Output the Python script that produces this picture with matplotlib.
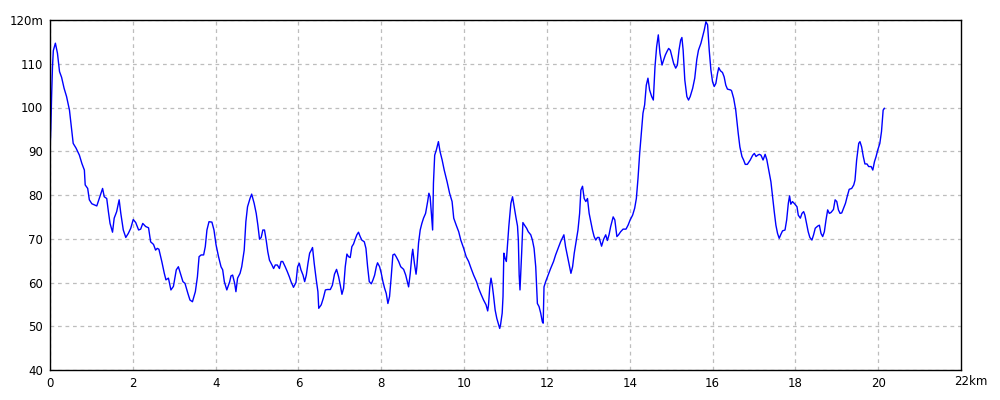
from matplotlib import transforms
import matplotlib.pyplot as plt


# distance along the route (km) and elevation (m)
DISTANCE_KM: list[float] = [
    0.00, 0.02, 0.04, 0.06, 0.08, 0.13, 0.18, 0.23, 0.28, 0.34, 0.40, 0.47,
    0.52, 0.56, 0.63, 0.71, 0.77, 0.83, 0.85, 0.91, 0.95, 1.01, 1.13, 1.19,
    1.27, 1.31, 1.37, 1.41, 1.45, 1.51, 1.55, 1.61, 1.67, 1.71, 1.77, 1.83,
    1.89, 1.95, 2.01, 2.07, 2.14, 2.19, 2.24, 2.31, 2.38, 2.43, 2.50, 2.55,
    2.59, 2.63, 2.70, 2.76, 2.80, 2.86, 2.92, 2.98, 3.05, 3.10, 3.16, 3.21,
    3.26, 3.33, 3.38, 3.44, 3.51, 3.56, 3.60, 3.65, 3.71, 3.75, 3.79, 3.84,
    3.91, 3.96, 4.01, 4.07, 4.13, 4.17, 4.21, 4.27, 4.34, 4.37, 4.41, 4.46,
    4.49, 4.53, 4.59, 4.63, 4.69, 4.73, 4.77, 4.83, 4.87, 4.93, 4.98, 5.02,
    5.06, 5.10, 5.14, 5.18, 5.22, 5.26, 5.30, 5.36, 5.40, 5.44, 5.49, 5.54,
    5.58, 5.62, 5.68, 5.73, 5.78, 5.82, 5.88, 5.94, 5.98, 6.02, 6.06, 6.11,
    6.15, 6.19, 6.23, 6.27, 6.31, 6.34, 6.38, 6.43, 6.47, 6.49, 6.55, 6.60,
    6.65, 6.70, 6.77, 6.82, 6.87, 6.92, 6.97, 7.01, 7.05, 7.09, 7.13, 7.17,
    7.21, 7.25, 7.29, 7.33, 7.37, 7.41, 7.45, 7.49, 7.53, 7.59, 7.63, 7.67,
    7.71, 7.76, 7.80, 7.84, 7.88, 7.91, 7.96, 8.00, 8.04, 8.08, 8.12, 8.16,
    8.20, 8.24, 8.28, 8.32, 8.36, 8.42, 8.47, 8.54, 8.59, 8.66, 8.70, 8.74,
    8.76, 8.80, 8.84, 8.86, 8.90, 8.94, 8.98, 9.02, 9.07, 9.12, 9.15, 9.18,
    9.21, 9.24, 9.26, 9.29, 9.33, 9.36, 9.38, 9.42, 9.47, 9.52, 9.59, 9.65,
    9.71, 9.75, 9.81, 9.87, 9.92, 9.99, 10.05, 10.11, 10.17, 10.23, 10.30,
    10.35, 10.41, 10.47, 10.53, 10.57, 10.59, 10.62, 10.65, 10.68, 10.71,
    10.75, 10.79, 10.86, 10.88, 10.92, 10.94, 10.96, 10.99, 11.02, 11.04,
    11.08, 11.13, 11.17, 11.21, 11.25, 11.29, 11.31, 11.33, 11.35, 11.37,
    11.39, 11.42, 11.46, 11.51, 11.55, 11.61, 11.65, 11.69, 11.73, 11.77,
    11.81, 11.85, 11.89, 11.91, 11.93, 11.97, 12.03, 12.09, 12.16, 12.21,
    12.27, 12.33, 12.38, 12.41, 12.45, 12.50, 12.54, 12.58, 12.62, 12.66,
    12.71, 12.75, 12.79, 12.82, 12.86, 12.90, 12.94, 12.98, 13.02, 13.06,
    13.10, 13.14, 13.18, 13.22, 13.26, 13.32, 13.37, 13.42, 13.46, 13.50,
    13.54, 13.60, 13.64, 13.69, 13.73, 13.78, 13.84, 13.91, 13.96, 14.01,
    14.07, 14.12, 14.16, 14.20, 14.24, 14.28, 14.32, 14.36, 14.40, 14.44,
    14.48, 14.53, 14.57, 14.61, 14.65, 14.69, 14.73, 14.78, 14.82, 14.86,
    14.90, 14.94, 14.98, 15.02, 15.06, 15.11, 15.15, 15.19, 15.23, 15.26,
    15.29, 15.33, 15.38, 15.42, 15.46, 15.52, 15.57, 15.62, 15.66, 15.72,
    15.76, 15.80, 15.84, 15.88, 15.92, 15.96, 16.00, 16.04, 16.08, 16.12,
    16.15, 16.19, 16.24, 16.28, 16.32, 16.36, 16.44, 16.46, 16.51, 16.56,
    16.62, 16.66, 16.71, 16.75, 16.79, 16.84, 16.91, 16.97, 17.01, 17.05,
    17.09, 17.13, 17.17, 17.22, 17.27, 17.31, 17.37, 17.41, 17.45, 17.49,
    17.53, 17.57, 17.61, 17.65, 17.69, 17.75, 17.79, 17.83, 17.86, 17.89,
    17.93, 17.99, 18.04, 18.07, 18.12, 18.16, 18.20, 18.23, 18.27, 18.31,
    18.35, 18.40, 18.44, 18.48, 18.54, 18.58, 18.62, 18.66, 18.70, 18.74,
    18.78, 18.82, 18.86, 18.92, 18.96, 19.00, 19.04, 19.08, 19.12, 19.16,
    19.21, 19.25, 19.30, 19.36, 19.41, 19.44, 19.48, 19.53, 19.56, 19.60,
    19.64, 19.68, 19.73, 19.77, 19.83, 19.87, 19.91, 19.95, 19.99, 20.04,
    20.08, 20.12, 20.15,
]

ELEVATION_M: list[float] = [
    90.0, 95.2, 103.0, 109.3, 113.0, 114.7, 112.4, 108.2, 106.9, 104.4, 102.5,
    99.4, 95.2, 91.8, 90.7, 89.1, 87.2, 85.7, 82.3, 81.5, 78.9, 78.0, 77.5,
    79.2, 81.5, 79.6, 79.2, 76.2, 73.5, 71.5, 74.7, 76.2, 78.9, 75.8, 72.0,
    70.3, 71.2, 72.4, 74.4, 73.7, 72.0, 72.2, 73.5, 72.8, 72.5, 69.3, 68.7,
    67.4, 67.8, 67.6, 64.8, 62.1, 60.6, 61.0, 58.3, 59.1, 62.9, 63.6, 61.7,
    60.2, 59.8, 57.5, 56.0, 55.6, 57.9, 61.3, 65.9, 66.3, 66.3, 68.2, 72.0,
    73.9, 73.8, 72.0, 68.6, 65.9, 63.6, 62.9, 60.2, 58.3, 60.2, 61.5, 61.7,
    59.8, 57.9, 61.0, 62.1, 63.6, 67.4, 73.9, 77.3, 79.2, 80.2, 78.1, 75.8,
    73.1, 69.9, 70.3, 72.0, 72.0, 69.7, 67.0, 65.1, 64.0, 63.2, 64.0, 64.0,
    63.2, 64.8, 64.8, 63.6, 62.5, 61.3, 60.2, 58.9, 60.0, 63.6, 64.4, 62.9,
    61.7, 60.2, 61.7, 64.4, 66.7, 67.4, 68.0, 64.4, 60.6, 57.9, 54.1, 54.9,
    56.4, 58.3, 58.4, 58.4, 59.4, 61.9, 63.0, 61.3, 59.4, 57.3, 58.7, 63.6,
    66.5, 65.9, 65.7, 68.2, 68.8, 69.9, 70.9, 71.5, 70.5, 69.7, 69.3, 67.8,
    63.6, 60.2, 59.7, 60.6, 61.7, 63.6, 64.5, 63.6, 62.1, 60.2, 58.7, 57.5,
    55.2, 56.8, 61.3, 66.3, 66.5, 65.9, 64.8, 63.6, 63.0, 61.7, 59.0, 62.1,
    66.3, 67.6, 64.4, 61.9, 63.6, 69.0, 72.0, 73.5, 74.7, 75.8, 78.5, 80.4,
    79.6, 75.8, 72.0, 82.7, 89.1, 90.3, 91.4, 92.2, 89.9, 88.0, 85.7, 83.0,
    80.4, 78.5, 74.7, 73.1, 71.6, 69.7, 67.8, 65.9, 64.8, 63.2, 61.7, 60.2,
    58.7, 57.3, 56.0, 54.9, 53.5, 54.9, 59.0, 61.0, 59.4, 57.1, 53.7, 51.8,
    49.5, 50.3, 53.0, 56.8, 66.7, 65.5, 64.8, 67.4, 72.8, 78.1, 79.6, 77.3,
    75.0, 72.9, 69.7, 61.7, 58.3, 62.5, 66.7, 73.7, 73.1, 72.4, 71.6, 70.9,
    69.7, 67.8, 63.6, 55.2, 54.5, 53.0, 51.0, 50.7, 59.0, 60.2, 61.7, 63.2,
    64.8, 66.3, 67.8, 69.3, 70.3, 70.9, 68.2, 65.9, 64.0, 62.1, 63.6, 66.7,
    69.7, 72.0, 75.8, 81.1, 82.0, 79.2, 78.5, 79.2, 75.8, 73.9, 72.0, 70.5,
    69.7, 70.3, 70.3, 68.3, 69.9, 70.9, 69.6, 70.9, 72.8, 75.0, 74.3, 70.5,
    70.9, 71.6, 72.2, 72.2, 73.1, 74.3, 75.4, 77.0, 79.2, 83.8, 89.5, 94.1,
    98.7, 100.6, 105.1, 106.7, 104.0, 102.5, 101.7, 109.3, 113.9, 116.6,
    112.4, 109.7, 110.9, 112.0, 112.8, 113.5, 113.1, 111.6, 110.1, 109.0,
    109.7, 113.1, 115.4, 116.0, 113.1, 106.3, 102.5, 101.7, 102.5, 104.4,
    106.7, 111.0, 113.1, 114.7, 116.2, 117.7, 119.6, 118.9, 113.1, 108.6,
    105.9, 104.8, 105.5, 107.8, 109.1, 108.4, 108.0, 107.0, 105.1, 104.2,
    104.0, 103.8, 102.1, 99.4, 94.1, 91.0, 88.8, 88.0, 87.0, 87.0, 88.0,
    89.1, 89.5, 88.8, 89.1, 89.3, 89.1, 88.0, 89.3, 88.1, 85.0, 83.0, 79.6,
    76.2, 73.1, 71.2, 70.1, 71.0, 71.8, 72.0, 74.3, 78.1, 79.8, 77.9, 78.5,
    77.9, 77.3, 75.4, 74.7, 75.8, 76.2, 75.4, 73.5, 71.6, 70.3, 69.7, 70.9,
    72.4, 72.9, 73.1, 71.2, 70.5, 71.6, 74.3, 76.6, 75.8, 76.0, 76.7, 78.9,
    78.5, 76.6, 75.8, 75.9, 76.9, 78.1, 79.6, 81.3, 81.5, 82.3, 83.4, 88.0,
    91.8, 92.2, 91.0, 88.8, 87.1, 87.1, 86.5, 86.5, 85.7, 87.6, 88.8, 90.3,
    91.8, 94.5, 99.4, 99.8,
]

X_TICKS: list[int] = [0, 2, 4, 6, 8, 10, 12, 14, 16, 18, 20]
Y_TICKS: list[int] = [40, 50, 60, 70, 80, 90, 100, 110, 120]
Y_TICK_LABELS: list[str] = ["40", "50", "60", "70", "80", "90", "100", "110", "120m"]


def plot_elevation_profile(save_path: str = "out.png") -> None:
    """
    Draws the elevation profile in the style of the old desktop charting tool.
    """
    fig = plt.figure(figsize=(10, 4), dpi=100)
    ax = fig.add_axes([0.05, 0.075, 0.911, 0.875])

    ax.plot(DISTANCE_KM, ELEVATION_M, color="#0000ff", linewidth=1.0)

    ax.set_xlim(0, 22)
    ax.set_ylim(40, 120)

    ax.set_xticks(X_TICKS)
    ax.set_xticklabels([str(t) for t in X_TICKS])
    ax.set_yticks(Y_TICKS)
    ax.set_yticklabels(Y_TICK_LABELS)
    ax.tick_params(length=0, labelsize=8.5, pad=5)

    # the last x label sits a bit to the right of its tick
    offset = transforms.offset_copy(ax.transData, fig=fig, x=-7, y=-5, units="dots")
    ax.text(22, 40, "22km", transform=offset, ha="left", va="top", fontsize=8.5)

    ax.grid(True, color="#bdbdbd", linestyle=(0, (3, 3)), linewidth=0.9)
    ax.set_axisbelow(True)

    for spine in ax.spines.values():
        spine.set_color("black")
        spine.set_linewidth(1.0)

    fig.savefig(save_path, dpi=100)


def main() -> None:
    plot_elevation_profile()


if __name__ == "__main__":
    main()
